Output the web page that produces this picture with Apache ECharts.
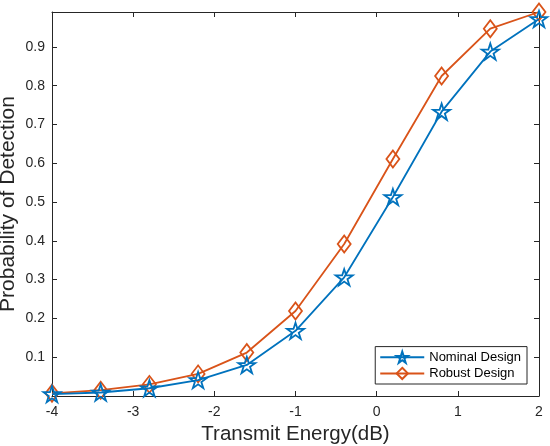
<!DOCTYPE html>
<html>
<head>
<meta charset="utf-8">
<script src="https://cdn.jsdelivr.net/npm/echarts@6/dist/echarts.min.js"></script>
<style>
  html, body { margin: 0; padding: 0; background: #fff; }
  #chart { width: 550px; height: 446px; }
</style>
</head>
<body>
<div id="chart"></div>
<script>
// transmit energy in dB, one point every 0.6 dB
var energyDb = [-4, -3.4, -2.8, -2.2, -1.6, -1, -0.4, 0.2, 0.8, 1.4, 2];
var nominalDesign = [0.005, 0.009, 0.02, 0.041, 0.08, 0.168, 0.306, 0.513, 0.733, 0.888, 0.972];
var robustDesign = [0.007, 0.015, 0.03, 0.057, 0.112, 0.219, 0.392, 0.611, 0.825, 0.947, 0.99];
var yTickLabels = ['0.1', '0.2', '0.3', '0.4', '0.5', '0.6', '0.7', '0.8', '0.9'];
var xTickLabels = ['-4', '-3', '-2', '-1', '0', '1', '2'];

var blue = '#0072BD';
var orange = '#D95319';
var ink = '#262626';
var fontName = 'Liberation Sans';

// 5 point star, like matlab's pentagram marker
var starPath = 'path://M0,-50 L11.23,-15.45 L47.55,-15.45 L18.16,5.9 L29.39,40.45 L0,19.1 L-29.39,40.45 L-18.16,5.9 L-47.55,-15.45 L-11.23,-15.45 Z';

function pairs(xs, ys) {
    var out = [];
    for (var i = 0; i < xs.length; i++) {
        out.push([xs[i], ys[i]]);
    }
    return out;
}

var chart = echarts.init(document.getElementById('chart'));

var tickStyle = { inside: true, length: 5, lineStyle: { color: ink } };
var lineStyleInk = { onZero: false, lineStyle: { color: ink, width: 1 } };

var option = {
    animation: false,
    textStyle: { fontFamily: fontName },
    grid: { left: 52, right: 11, top: 12, bottom: 50, containLabel: false, outerBoundsMode: 'none' },
    legend: {
        right: 23,
        bottom: 62,
        orient: 'vertical',
        itemWidth: 44,
        itemHeight: 14,
        itemGap: 3,
        padding: [4, 6, 4, 4],
        borderColor: ink,
        borderWidth: 1,
        backgroundColor: '#fff',
        textStyle: { fontFamily: fontName, fontSize: 13, color: '#000' },
        data: ['Nominal Design', 'Robust Design']
    },
    xAxis: [{
        type: 'value',
        min: -4,
        max: 2,
        interval: 1,
        name: 'Transmit Energy(dB)',
        nameLocation: 'middle',
        nameGap: 26,
        nameTextStyle: { fontSize: 20.5, color: ink, fontFamily: fontName },
        axisLine: lineStyleInk,
        axisTick: tickStyle,
        axisLabel: {
            color: ink, fontSize: 14, margin: 9,
            formatter: function (v) {
                var s = String(Math.round(v * 100) / 100);
                return xTickLabels.indexOf(s) >= 0 ? s : '';
            }
        },
        splitLine: { show: false }
    }, {
        type: 'value',
        position: 'top',
        min: -4,
        max: 2,
        interval: 1,
        axisLine: { show: true, onZero: false, lineStyle: { color: ink, width: 1 } },
        axisTick: tickStyle,
        axisLabel: { show: false },
        splitLine: { show: false }
    }],
    yAxis: [{
        type: 'value',
        min: 0,
        max: 0.99,
        interval: 0.1,
        name: 'Probability of Detection',
        nameLocation: 'middle',
        nameGap: 33,
        nameMoveOverlap: false,
        nameTextStyle: { fontSize: 21, color: ink, fontFamily: fontName },
        axisLine: { show: true, onZero: false, lineStyle: { color: ink, width: 1 } },
        axisTick: tickStyle,
        axisLabel: {
            color: ink, fontSize: 14, margin: 7,
            formatter: function (v) {
                var s = (Math.round(v * 1000) / 1000).toFixed(1);
                return (yTickLabels.indexOf(s) >= 0 && Math.abs(v - parseFloat(s)) < 0.001) ? s : '';
            }
        },
        splitLine: { show: false }
    }, {
        type: 'value',
        position: 'right',
        min: 0,
        max: 0.99,
        interval: 0.1,
        axisLine: { show: true, onZero: false, lineStyle: { color: ink, width: 1 } },
        axisTick: tickStyle,
        axisLabel: { show: false },
        splitLine: { show: false }
    }],
    series: [{
        name: 'Nominal Design',
        type: 'line',
        data: pairs(energyDb, nominalDesign),
        symbol: starPath,
        symbolSize: 17,
        symbolKeepAspect: true,
        lineStyle: { color: blue, width: 1.8 },
        itemStyle: { color: 'rgba(255,255,255,0)', borderColor: blue, borderWidth: 1.8 },
        z: 3
    }, {
        name: 'Robust Design',
        type: 'line',
        data: pairs(energyDb, robustDesign),
        symbol: 'diamond',
        symbolSize: [13, 17],
        lineStyle: { color: orange, width: 1.8 },
        itemStyle: { color: 'rgba(255,255,255,0)', borderColor: orange, borderWidth: 1.8 },
        z: 2
    }]
};

chart.setOption(option);
</script>
</body>
</html>
